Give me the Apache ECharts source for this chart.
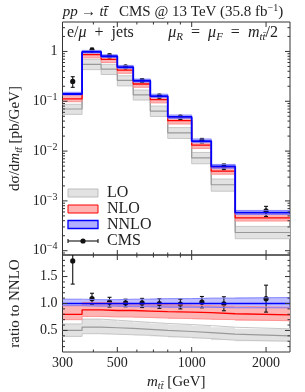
<!DOCTYPE html>
<html><head><meta charset="utf-8">
<script src="https://cdn.jsdelivr.net/npm/echarts@6/dist/echarts.min.js"></script>
<style>html,body{margin:0;padding:0;background:#fff}#c{width:305px;height:392px}</style>
</head><body><div id="c"></div>
<script>
// ---- data ----
const binEdges   = [300, 360, 430, 500, 580, 680, 800, 1000, 1200, 1500, 2500];
const binCenters = [330, 395, 465, 540, 630, 740, 900, 1100, 1350, 2000];
// NNLO cross section [pb/GeV]
const nnloXs  = [0.140, 0.98, 0.80, 0.485, 0.258, 0.127, 0.0485, 0.0159, 0.0049, 0.00058];
// scale bands and central values as ratio to NNLO
const nnloC   = [1, 1, 1, 1, 1, 1, 1, 1, 1, 1];
const nnloUp  = [1.08, 1.07, 1.07, 1.08, 1.08, 1.09, 1.09, 1.10, 1.10, 1.11];
const nnloDn  = [0.96, 0.95, 0.95, 0.94, 0.94, 0.93, 0.93, 0.93, 0.92, 0.92];
const nloC    = [0.80, 0.88, 0.87, 0.87, 0.86, 0.85, 0.84, 0.83, 0.81, 0.79];
const nloUp   = [0.96, 1.02, 1.01, 1.00, 0.99, 0.98, 0.97, 0.96, 0.95, 0.93];
const nloDn   = [0.70, 0.76, 0.75, 0.75, 0.74, 0.73, 0.72, 0.71, 0.70, 0.68];
const loC     = [0.50, 0.56, 0.55, 0.54, 0.52, 0.50, 0.48, 0.46, 0.43, 0.40];
const loUp    = [0.62, 0.71, 0.69, 0.67, 0.65, 0.63, 0.61, 0.59, 0.56, 0.53];
const loDn    = [0.39, 0.44, 0.43, 0.42, 0.41, 0.39, 0.37, 0.35, 0.32, 0.30];
// CMS data, ratio to NNLO with error
const cmsRatio = [1.79, 1.09, 1.025, 1.01, 1.01, 1.00, 0.99, 1.025, 0.995, 1.09];
const cmsErr   = [0.43, 0.10, 0.09, 0.07, 0.085, 0.09, 0.09, 0.105, 0.13, 0.25];
// ticks
const xMajor = [300, 500, 1000, 2000];
const xLabels = ['300', '500', '1000', '2000'];
const xMinor = [400, 600, 700, 800, 900];
const yTopMajorExp = [-4, -3, -2, -1, 0];
const yTopLabels = ['{b|10}{s|\u22124}', '{b|10}{s|\u22123}', '{b|10}{s|\u22122}', '{b|10}{s|\u22121}', '{b|1}'];
const yRatMajor = [0.5, 1.0, 1.5];
const yRatLabels = ['0.5', '1.0', '1.5'];
const yRatMinor = [0.2,0.3,0.4,0.6,0.7,0.8,0.9,1.1,1.2,1.3,1.4,1.6,1.7,1.8];

// ---- setup ----
const F = 'Liberation Serif';
const L = Math.log10;
const XMIN = L(300), XMAX = L(2500);
const YTMIN = -4.086, YTMAX = 0.591;
const YRMIN = 0.1, YRMAX = 1.9;
const INK = '#222';

function mkRich(sz) {
  const sub = Math.round(sz * 0.68);
  return {
    b:   {fontFamily: F, fontSize: 14, color: INK, fill: INK, lineHeight: 18, verticalAlign: 'middle'},
    n:   {fontFamily: F, fontSize: sz, color: INK, fill: INK, lineHeight: sz + 3, verticalAlign: 'middle'},
    i:   {fontFamily: F, fontSize: sz, fontStyle: 'italic', color: INK, fill: INK, lineHeight: sz + 3, verticalAlign: 'middle'},
    s:   {fontFamily: F, fontSize: 10, color: INK, fill: INK, lineHeight: 11, verticalAlign: 'top'},
    sub: {fontFamily: F, fontSize: sub, fontStyle: 'italic', color: INK, fill: INK, lineHeight: sub, verticalAlign: 'bottom'}
  };
}
const rich = mkRich(15);
const rich16 = mkRich(16);
const TT = 'tt\u0304';

const chart = echarts.init(document.getElementById('c'), null, {renderer: 'canvas'});

const panels = [
  {xi: 0, yi: 0, f: (i, r) => L(r * nnloXs[i]), ymin: YTMIN, ymax: YTMAX},
  {xi: 1, yi: 1, f: (i, r) => r, ymin: YRMIN, ymax: YRMAX}
];

function bandFill(up, dn, color, P) {
  return {
    type: 'custom', xAxisIndex: P.xi, yAxisIndex: P.yi, clip: true, silent: true, animation: false,
    data: up.map((_, i) => [L(binEdges[i]), L(binEdges[i + 1]), P.f(i, dn[i]), P.f(i, up[i])]),
    renderItem: (p, api) => {
      const a = api.coord([api.value(0), api.value(3)]);
      const b = api.coord([api.value(1), api.value(2)]);
      const x0 = Math.round(a[0]), x1 = Math.round(b[0]);
      return {type: 'rect', shape: {x: x0, y: a[1], width: x1 - x0, height: b[1] - a[1]}, style: {fill: color}};
    }
  };
}
function stepLine(ratios, P, color, width) {
  const d = ratios.map((r, i) => [L(binEdges[i]), P.f(i, r)]);
  const n = ratios.length - 1;
  d.push([L(binEdges[n + 1]), P.f(n, ratios[n])]);
  return {type: 'line', xAxisIndex: P.xi, yAxisIndex: P.yi, step: 'end', data: d, symbol: 'none',
          lineStyle: {color, width}, silent: true, animation: false, clip: true};
}
function dataSeries(P) {
  return {
    type: 'custom', xAxisIndex: P.xi, yAxisIndex: P.yi, clip: true, silent: true, animation: false,
    data: cmsRatio.map((r, i) => [L(binCenters[i]), P.f(i, r), P.f(i, r - cmsErr[i]), P.f(i, r + cmsErr[i])]),
    renderItem: (p, api) => {
      const c = api.coord([api.value(0), api.value(1)]);
      const lo = api.coord([api.value(0), api.value(2)]);
      const hi = api.coord([api.value(0), api.value(3)]);
      const st = {stroke: '#111', lineWidth: 1.1};
      return {type: 'group', children: [
        {type: 'line', shape: {x1: c[0], y1: lo[1], x2: c[0], y2: hi[1]}, style: st},
        {type: 'line', shape: {x1: c[0] - 2, y1: lo[1], x2: c[0] + 2, y2: lo[1]}, style: st},
        {type: 'line', shape: {x1: c[0] - 2, y1: hi[1], x2: c[0] + 2, y2: hi[1]}, style: st},
        {type: 'circle', shape: {cx: c[0], cy: c[1], r: 2.6}, style: {fill: '#111'}}
      ]};
    }
  };
}
function yTicks(P, vals, len, labels) {
  return {
    type: 'custom', xAxisIndex: P.xi, yAxisIndex: P.yi, clip: false, silent: true, animation: false, z: 10,
    data: vals.map((v, i) => [v, i]),
    renderItem: (p, api) => {
      const v = api.value(0);
      const l = api.coord([XMIN, v]), r = api.coord([XMAX, v]);
      const st = {stroke: '#333', lineWidth: 1};
      const ch = [
        {type: 'line', shape: {x1: l[0], y1: l[1], x2: l[0] + len, y2: l[1]}, style: st},
        {type: 'line', shape: {x1: r[0], y1: r[1], x2: r[0] - len, y2: r[1]}, style: st}
      ];
      if (labels) ch.push({type: 'text', style: {text: labels[api.value(1)], x: l[0] - 5, y: l[1],
        align: 'right', verticalAlign: 'middle', rich: rich, fontFamily: F, fontSize: 14, fill: INK}});
      return {type: 'group', children: ch};
    }
  };
}
function xTicks(P, vals, len, labels) {
  return {
    type: 'custom', xAxisIndex: P.xi, yAxisIndex: P.yi, clip: false, silent: true, animation: false, z: 10,
    data: vals.map((v, i) => [L(v), i]),
    renderItem: (p, api) => {
      const v = api.value(0);
      const b = api.coord([v, P.ymin]), t = api.coord([v, P.ymax]);
      const st = {stroke: '#333', lineWidth: 1};
      const ch = [
        {type: 'line', shape: {x1: b[0], y1: b[1], x2: b[0], y2: b[1] - len}, style: st},
        {type: 'line', shape: {x1: t[0], y1: t[1], x2: t[0], y2: t[1] + len}, style: st}
      ];
      if (labels) ch.push({type: 'text', style: {text: labels[api.value(1)], x: b[0], y: b[1] + 11,
        align: 'center', verticalAlign: 'middle', fontFamily: F, fontSize: 14, fill: INK}});
      return {type: 'group', children: ch};
    }
  };
}

const series = [];
panels.forEach((P, k) => {
  series.push(bandFill(loUp, loDn, '#e2e2e2', P));
  series.push(stepLine(loUp, P, '#c6c6c6', 1));
  series.push(stepLine(loDn, P, '#c6c6c6', 1));
  series.push(stepLine(loC, P, '#999999', 1.2));
  series.push(bandFill(nloUp, nloDn, '#ffb4b4', P));
  series.push(stepLine(nloUp, P, '#ff8a8a', 0.9));
  series.push(stepLine(nloDn, P, '#ff8a8a', 0.9));
  series.push(stepLine(nloC, P, '#ff0000', 1.3));
  series.push(bandFill(nnloUp, nnloDn, 'rgba(60,60,255,0.33)', P));
  series.push(stepLine(nnloUp, P, '#7a7aff', 0.9));
  series.push(stepLine(nnloDn, P, '#7a7aff', 0.9));
  series.push(stepLine(nnloC, P, '#0000ff', k === 0 ? 1.8 : 1.3));
  series.push(dataSeries(P));
});
series.push(yTicks(panels[0], yTopMajorExp, 5, yTopLabels));
const topMinor = [];
[-5, -4, -3, -2, -1, 0].forEach(d => [2,3,4,5,6,7,8,9].forEach(k => { const v = d + L(k); if (v > YTMIN && v < YTMAX) topMinor.push(v); }));
series.push(yTicks(panels[0], topMinor, 2.5, null));
series.push(yTicks(panels[1], yRatMajor, 5, yRatLabels));
series.push(yTicks(panels[1], yRatMinor, 2.5, null));
series.push(xTicks(panels[0], xMajor, 5, null));
series.push(xTicks(panels[0], xMinor, 2.5, null));
series.push(xTicks(panels[1], xMajor, 5, xLabels));
series.push(xTicks(panels[1], xMinor, 2.5, null));

const hidden = {axisLine: {show: false}, axisTick: {show: false}, axisLabel: {show: false}, splitLine: {show: false}};
const legendY = [193, 209, 224.5, 241];
const option = {
  backgroundColor: '#fff',
  animation: false,
  grid: [
    {left: 57, right: 15, top: 22, height: 233, show: true, borderColor: '#333', borderWidth: 1, backgroundColor: 'transparent'},
    {left: 57, right: 15, top: 255, height: 99, show: true, borderColor: '#333', borderWidth: 1, backgroundColor: 'transparent'}
  ],
  xAxis: [
    Object.assign({type: 'value', gridIndex: 0, min: XMIN, max: XMAX}, hidden),
    Object.assign({type: 'value', gridIndex: 1, min: XMIN, max: XMAX,
      name: '{i|m}{sub|' + TT + '}{n| [GeV]}', nameLocation: 'middle', nameGap: 21,
      nameTextStyle: {rich: rich, fontFamily: F, fontSize: 15, color: INK}}, hidden)
  ],
  yAxis: [
    Object.assign({type: 'value', gridIndex: 0, min: YTMIN, max: YTMAX,
      name: '{n|d\u03c3/d}{i|m}{sub|' + TT + '}{n| [pb/GeV]}', nameLocation: 'middle', nameGap: 38, nameRotate: 90,
      nameTextStyle: {rich: rich, fontFamily: F, fontSize: 15, color: INK}}, hidden),
    Object.assign({type: 'value', gridIndex: 1, min: YRMIN, max: YRMAX,
      name: '{n|ratio to NNLO}', nameLocation: 'middle', nameGap: 38, nameRotate: 90,
      nameTextStyle: {rich: rich, fontFamily: F, fontSize: 15, color: INK}}, hidden)
  ],
  series: series,
  graphic: [
    {type: 'text', x: 173, y: 12, style: {text: '{i|pp} {n|\u2192} {i|' + TT + '}{n|   CMS @ 13 TeV (35.8 fb}{s|\u22121}{n|)}',
      rich: rich, align: 'center', verticalAlign: 'middle'}},
    {type: 'text', x: 67, y: 33, style: {text: '{n|e/}{i|\u03bc}{n|  +  jets}', rich: rich16, align: 'left', verticalAlign: 'middle'}},
    {type: 'text', x: 278, y: 33, style: {text: '{i|\u03bc}{sub|R}{n|  =  }{i|\u03bc}{sub|F}{n|  =  }{i|m}{sub|' + TT + '}{n|/2}',
      rich: rich16, align: 'right', verticalAlign: 'middle'}},
    // legend
    {type: 'rect', shape: {x: 68, y: legendY[0] - 4, width: 30, height: 8}, style: {fill: '#e2e2e2', stroke: '#bdbdbd', lineWidth: 1}},
    {type: 'rect', shape: {x: 68, y: legendY[1] - 4, width: 30, height: 8}, style: {fill: '#ffb4b4', stroke: '#ff0000', lineWidth: 1}},
    {type: 'rect', shape: {x: 68, y: legendY[2] - 4, width: 30, height: 8}, style: {fill: '#b0b0ff', stroke: '#0000ff', lineWidth: 1.3}},
    {type: 'line', shape: {x1: 68, y1: legendY[3], x2: 98, y2: legendY[3]}, style: {stroke: '#111', lineWidth: 1.1}},
    {type: 'line', shape: {x1: 68, y1: legendY[3] - 2, x2: 68, y2: legendY[3] + 2}, style: {stroke: '#111', lineWidth: 1.1}},
    {type: 'line', shape: {x1: 98, y1: legendY[3] - 2, x2: 98, y2: legendY[3] + 2}, style: {stroke: '#111', lineWidth: 1.1}},
    {type: 'circle', shape: {cx: 83, cy: legendY[3], r: 2.6}, style: {fill: '#111'}},
    {type: 'text', x: 107, y: legendY[0], style: {text: 'LO', fontFamily: F, fontSize: 16, fill: INK, verticalAlign: 'middle'}},
    {type: 'text', x: 107, y: legendY[1], style: {text: 'NLO', fontFamily: F, fontSize: 16, fill: INK, verticalAlign: 'middle'}},
    {type: 'text', x: 107, y: legendY[2], style: {text: 'NNLO', fontFamily: F, fontSize: 16, fill: INK, verticalAlign: 'middle'}},
    {type: 'text', x: 107, y: legendY[3], style: {text: 'CMS', fontFamily: F, fontSize: 16, fill: INK, verticalAlign: 'middle'}}
  ]
};
chart.setOption(option);
</script>
</body></html>
